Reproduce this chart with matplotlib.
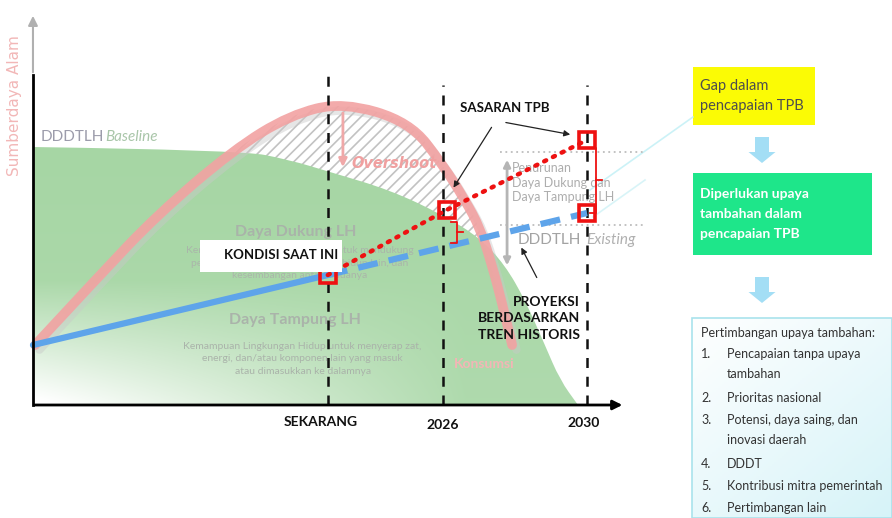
import numpy as np
import matplotlib
matplotlib.use('Agg')
import matplotlib.pyplot as plt
from matplotlib.path import Path
from matplotlib.patches import PathPatch, Rectangle, FancyArrow

plt.rcParams['font.family'] = ['Lato', 'DejaVu Sans']
plt.rcParams['hatch.linewidth'] = 1.2

# x = tahun, y = tingkat sumberdaya (0-100)
tick_pos = [2022.8, 2026.0, 2030.0]
tick_labels = ['SEKARANG', '2026', '2030']
tick_tops = [84.6, 82.0, 82.0]

# batas daya dukung / daya tampung (area hijau)
ddd_x = [2014.61, 2020.36, 2021.75, 2022.86, 2024.53, 2026.0, 2027.03, 2027.72, 2028.28, 2028.83, 2029.25, 2029.75]
ddd_y = [66.15, 65.38, 62.82, 59.74, 55.13, 48.72, 42.82, 35.90, 26.92, 15.38, 6.41, 0.0]

# pemanfaatan sumberdaya (kurva merah muda)
use_x = [2014.67, 2016.47, 2018.06, 2020.17, 2021.75, 2023.22, 2025.08, 2026.0, 2026.61, 2027.03, 2027.36, 2027.64, 2027.92]
use_y = [15.38, 33.33, 48.72, 65.38, 74.36, 77.69, 72.56, 61.54, 52.56, 45.38, 35.90, 26.15, 15.38]

# tren historis dan proyeksi (biru)
trend_x = [2014.61, 2022.8]
trend_y = [15.38, 33.33]
proj_x = [2022.8, 2030.0]
proj_y = [33.33, 49.23]

# sasaran TPB (merah titik-titik)
target_x = [2022.8, 2026.1, 2030.0]
target_y = [33.33, 50.0, 67.95]

baseline = 66.15
existing = 46.15
axis_end = 2031.06


def smooth(xs, ys):
    pts = list(zip(xs, ys))
    verts = [pts[0]]
    codes = [Path.MOVETO]
    for i in range(1, len(pts) - 1):
        mid = ((pts[i][0] + pts[i + 1][0]) / 2, (pts[i][1] + pts[i + 1][1]) / 2)
        verts += [pts[i], mid]
        codes += [Path.CURVE3, Path.CURVE3]
    verts.append(pts[-1])
    codes.append(Path.LINETO)
    return verts, codes


fig = plt.figure(figsize=(8.92, 5.18), dpi=100)
ax = fig.add_axes([0, 78 / 518, 660 / 892, 440 / 518])
ax.set_zorder(2)
ax.axis('off')

# area di bawah kurva pemanfaatan, diarsir
v, c = smooth(use_x, use_y)
v = v + [(use_x[-1], 0), (use_x[0], 0), (use_x[0], 0)]
c = c + [Path.LINETO, Path.LINETO, Path.CLOSEPOLY]
ax.add_patch(PathPatch(Path(v, c), facecolor='white', edgecolor='#c2c2c2',
                       hatch='///', lw=0, zorder=1))

# area hijau dengan gradasi
v, c = smooth(ddd_x, ddd_y)
v = v + [(ddd_x[0], 0), (ddd_x[0], 0)]
c = c + [Path.LINETO, Path.CLOSEPOLY]
green_patch = PathPatch(Path(v, c), facecolor='none', edgecolor='none', zorder=2)
ax.add_patch(green_patch)
gx = np.linspace(ddd_x[0], ddd_x[-2] + 1, 300)
gy = np.linspace(0, baseline, 200)
GX, GY = np.meshgrid(gx, gy)
w = np.clip(1 - GY / 32, 0, 1) * np.clip(1 - (GX - ddd_x[0]) / 12, 0, 1) * 0.95
w = np.clip(w + 0.1 * (1 - GY / baseline), 0, 1)
green = np.array([166, 214, 164]) / 255
img = green[None, None, :] * (1 - w[..., None]) + w[..., None]
im = ax.imshow(img, extent=(gx[0], gx[-1], 0, baseline), origin='lower',
               aspect='auto', zorder=2)
im.set_clip_path(green_patch)

# garis bantu abu-abu
ax.plot([2027.58, 2031.6], [64.9, 64.9], ls=(0, (1, 2)), color='#bdbdbd', lw=1.3, zorder=3)
ax.plot([2027.58, 2031.6], [existing, existing], ls=(0, (1, 2)), color='#bdbdbd', lw=1.3, zorder=3)
ax.annotate('', xy=(2027.78, 35.1), xytext=(2027.78, 63.6),
            arrowprops=dict(arrowstyle='<|-|>', color='#b5b5b5', lw=2, mutation_scale=10), zorder=3)
ax.text(2027.92, 57.0, 'Penurunan\nDaya Dukung dan\nDaya Tampung LH', color='#adadad',
        fontsize=9, va='center', ha='left', linespacing=1.25, zorder=3)

# teks latar
ax.text(2014.81, 68.7, 'DDDTLH', color='#9c9cab', fontsize=11, va='center', zorder=3)
ax.text(2016.61, 68.7, 'Baseline', color='#a9c6a9', fontsize=11, style='italic', va='center', zorder=3)
ax.text(2028.06, 42.3, 'DDDTLH', color='#a3a3a3', fontsize=11, va='center', zorder=3)
ax.text(2029.97, 42.3, 'Existing', color='#b0b0b0', fontsize=11, style='italic', va='center', zorder=3)
ax.text(2021.92, 44.4, 'Daya Dukung LH', color='#a9b3a9', fontsize=11.5, weight='bold',
        ha='center', va='center', zorder=3)
ax.text(2022.03, 36.3, 'Kemampuan Lingkungan Hidup untuk mendukung\n'
        'perikehidupan manusia, makhluk hidup lain, dan\nkeseimbangan antarkeduanya',
        color='#aab5aa', fontsize=7.5, ha='center', va='center', linespacing=1.5, zorder=3)
ax.text(2021.89, 21.8, 'Daya Tampung LH', color='#aab3aa', fontsize=11.5, weight='bold',
        ha='center', va='center', zorder=3)
ax.text(2022.1, 11.8, 'Kemampuan Lingkungan Hidup untuk menyerap zat,\n'
        'energi, dan/atau komponen lain yang masuk\natau dimasukkan ke dalamnya',
        color='#aab3aa', fontsize=7.5, ha='center', va='center', linespacing=1.45, zorder=3)
ax.text(2026.3, 10.5, 'Konsumsi', color='#f3b5b5', fontsize=10, weight='bold',
        va='center', zorder=3)

# kurva pemanfaatan
v, c = smooth(use_x, use_y)
shadow = [(x + 0.12, y - 1.2) for x, y in v]
ax.add_patch(PathPatch(Path(shadow, c), facecolor='none', edgecolor='#c9c9c9',
                       lw=6, alpha=0.45, zorder=3.8, capstyle='round'))
ax.add_patch(PathPatch(Path(v, c), facecolor='none', edgecolor='#f2a2a2',
                       lw=7, alpha=0.9, zorder=4, capstyle='round'))

# overshoot
ax.annotate('', xy=(2023.22, 60.3), xytext=(2023.22, 75.6),
            arrowprops=dict(arrowstyle='-|>', color='#f0a8a8', lw=2, mutation_scale=12), zorder=4)
ax.text(2023.45, 62.0, 'Overshoot', color='#f0a0a0', fontsize=10.5, weight='bold',
        style='italic', va='center', family='DejaVu Sans', zorder=4)

# garis waktu putus-putus
for t, top in zip(tick_pos, tick_tops):
    ax.plot([t, t], [0, top], color='#111111', lw=1.8, ls=(0, (4, 3.5)), zorder=4.5)

# tren & proyeksi
ax.plot(trend_x, trend_y, color='#5ea4ea', lw=4.5, solid_capstyle='round', zorder=5)
ax.plot(proj_x, proj_y, color='#5ea4ea', lw=4.5, ls=(0, (3.2, 1.8)), zorder=5)

# sasaran
ax.plot(target_x, target_y, color='#ee1111', lw=3.2, ls=(0, (0.5, 1.7)),
        dash_capstyle='round', zorder=6)
sq_x = target_x + [proj_x[-1]]
sq_y = target_y + [proj_y[-1]]
ax.plot(sq_x, sq_y, ls='none', marker='s', markersize=12, markeredgewidth=2.6,
        markeredgecolor='#ee1111', markerfacecolor='none', zorder=7)

# kurung gap
p2026 = proj_y[0] + (proj_y[1] - proj_y[0]) * (target_x[1] - proj_x[0]) / (proj_x[1] - proj_x[0])
for bx, top, bot in [(2026.39, target_y[1] - 3.0, p2026 + 1.0), (2030.25, target_y[2] - 2.0, proj_y[1])]:
    mid = (top + bot) / 2
    ax.plot([bx - 0.17, bx, bx, bx - 0.17], [top, top, bot, bot], color='#ee1111', lw=1.3, zorder=7)
    ax.plot([bx, bx + 0.17], [mid, mid], color='#ee1111', lw=1.3, zorder=7)

# label kotak
ax.add_patch(Rectangle((2019.25, 34.1), 3.94, 8.2, facecolor='white', edgecolor='none', zorder=8))
ax.text(2021.5, 38.4, 'KONDISI SAAT INI', fontsize=9.5, weight='bold', ha='center',
        va='center', color='#111111', zorder=9)
ax.text(2027.72, 76.15, 'SASARAN TPB', fontsize=9.5, weight='bold', ha='center',
        va='center', color='#111111', zorder=9)
ax.annotate('', xy=(2026.25, 55.13), xytext=(2027.39, 71.8),
            arrowprops=dict(arrowstyle='-|>', color='#222222', lw=0.9, mutation_scale=9), zorder=9)
ax.annotate('', xy=(2029.61, 69.23), xytext=(2027.67, 72.56),
            arrowprops=dict(arrowstyle='-|>', color='#222222', lw=0.9, mutation_scale=9), zorder=9)
ax.text(2029.81, 22.3, 'PROYEKSI\nBERDASARKAN\nTREN HISTORIS', fontsize=10, weight='bold',
        ha='right', va='center', color='#111111', linespacing=1.45, zorder=9)
ax.annotate('', xy=(2028.14, 41.0), xytext=(2028.64, 32.05),
            arrowprops=dict(arrowstyle='-|>', color='#222222', lw=0.9, mutation_scale=9), zorder=9)

# sumbu
ax.annotate('', xy=(axis_end, 0), xytext=(ddd_x[0] - 0.03, 0),
            arrowprops=dict(arrowstyle='-|>', color='black', lw=2, mutation_scale=14), zorder=10)
ax.plot([ddd_x[0], ddd_x[0]], [0, 84.6], color='black', lw=2, zorder=10)
ax.annotate('', xy=(ddd_x[0], 100.5), xytext=(ddd_x[0], 84.6),
            arrowprops=dict(arrowstyle='-|>', color='#b0b0b0', lw=1.5, mutation_scale=14), zorder=10)
ax.text(2014.11, 76.7, 'Sumberdaya Alam', rotation=90, color='#f2b7b7', fontsize=11,
        ha='center', va='center', family='DejaVu Sans', zorder=10)
for t, lab, yy in zip(tick_pos, tick_labels, [-4.4, -5.1, -4.5]):
    ax.text(t - (0.2 if lab == 'SEKARANG' else 0) - (0.1 if lab == '2030' else 0), yy, lab,
            fontsize=10, weight='bold', ha='center', va='center', color='#111111')

ax.set_xlim(2013.694, 2032.028)
ax.set_ylim(-8.974, 103.846)

# panel kanan (koordinat piksel)
ax2 = fig.add_axes([0, 0, 1, 1])
ax2.set_zorder(1)
ax2.axis('off')
ax2.plot([590, 693], [190, 117], color='#bfeff5', lw=1.2, alpha=0.8)
ax2.plot([593, 645], [217, 180], color='#c8f0f5', lw=1.2, alpha=0.7)

ax2.add_patch(Rectangle((693, 67), 122, 58, facecolor='#fbfb05', edgecolor='none'))
ax2.text(700, 96, 'Gap dalam\npencapaian TPB', fontsize=10.5, color='#4d4d4d',
         va='center', ha='left', linespacing=1.6)

for ay in [137, 277]:
    ax2.add_patch(FancyArrow(762, ay, 0, 26, width=14, head_width=27, head_length=11,
                             length_includes_head=True, color='#a3def5', lw=0))

ax2.add_patch(Rectangle((693, 173), 179, 82, facecolor='#1ee68a', edgecolor='none'))
ax2.text(700, 214, 'Diperlukan upaya\ntambahan dalam\npencapaian TPB', fontsize=10,
         color='white', weight='bold', va='center', ha='left', linespacing=1.75)

bx = np.linspace(0, 1, 100)
by = np.linspace(0, 1, 100)
BX, BY = np.meshgrid(bx, by)
s = np.clip(0.55 * BY + 0.45 * BX, 0, 1)[..., None]
cyan = np.array([214, 243, 248]) / 255
bimg = (1 - s) + s * cyan[None, None, :]
ax2.imshow(bimg, extent=(692, 892, 518, 318), origin='upper', aspect='auto')
ax2.add_patch(Rectangle((692, 318), 200, 200, facecolor='none', edgecolor='#a9e3ec', lw=1.2))

ax2.text(701, 333, 'Pertimbangan upaya tambahan:', fontsize=9, color='#333333', va='center')
items = [('1.', 'Pencapaian tanpa upaya\ntambahan'), ('2.', 'Prioritas nasional'),
         ('3.', 'Potensi, daya saing, dan\ninovasi daerah'), ('4.', 'DDDT'),
         ('5.', 'Kontribusi mitra pemerintah'), ('6.', 'Pertimbangan lain')]
line_y = 355
for num, txt in items:
    ax2.text(701, line_y - 7, num, fontsize=9, color='#333333', va='top')
    ax2.text(727, line_y - 7, txt, fontsize=9, color='#333333', va='top', linespacing=1.75)
    line_y += 44 if '\n' in txt else 22

ax2.set_xlim(0, 892)
ax2.set_ylim(518, 0)

fig.savefig('out.png', dpi=100)
